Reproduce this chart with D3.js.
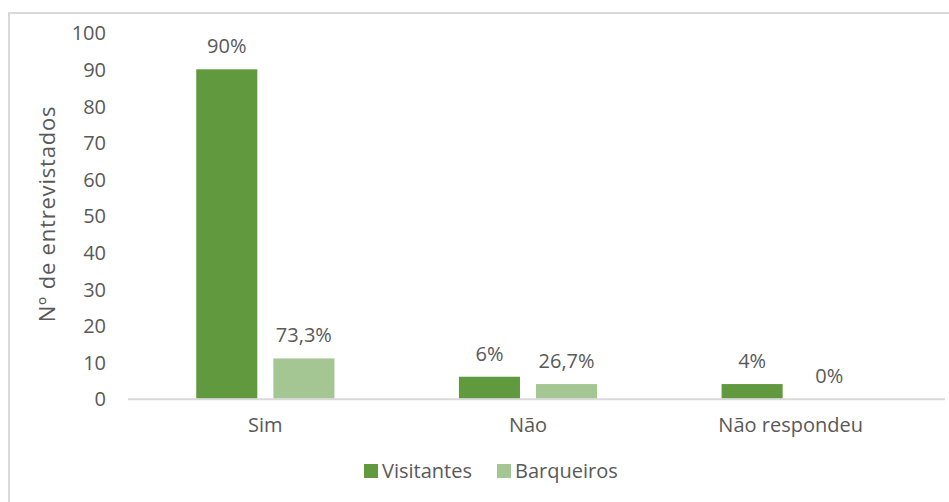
<!DOCTYPE html>
<html>
<head>
<meta charset="utf-8">
<script src="https://cdn.jsdelivr.net/npm/d3@7"></script>
<style>
  body { margin: 0; background: #fff; }
  text { font-family: "Open Sans", sans-serif; fill: #595959; }
</style>
</head>
<body>
<div id="chart"></div>
<script>
const categories = ["Sim", "Não", "Não respondeu"];
const seriesNames = ["Visitantes", "Barqueiros"];
const visitantes = [90, 6, 4];
const barqueiros = [11, 4, 0];
const visitantesLabels = ["90%", "6%", "4%"];
const barqueirosLabels = ["73,3%", "26,7%", "0%"];
const yTicks = [0, 10, 20, 30, 40, 50, 60, 70, 80, 90, 100];

const colors = { Visitantes: "#619a3e", Barqueiros: "#a4c693" };

const W = 949, H = 502;

const svg = d3
  .select("#chart")
  .append("svg")
  .attr("width", W)
  .attr("height", H);

// outer chart frame (runs past the right and bottom edges)
svg
  .append("rect")
  .attr("x", 9)
  .attr("y", 13)
  .attr("width", 980)
  .attr("height", 540)
  .attr("fill", "none")
  .attr("stroke", "#d9d9d9")
  .attr("stroke-width", 2);

const x0 = d3
  .scaleBand()
  .domain(categories)
  .range([134, 922])
  .paddingInner(0.474)
  .paddingOuter(0.237);

const x1 = d3
  .scaleBand()
  .domain(seriesNames)
  .range([0, x0.bandwidth()])
  .paddingInner(0.208);

const y = d3.scaleLinear().domain([0, 100]).range([398.7, 32.7]);

const rows = categories.map((c, i) => ({
  cat: c,
  values: [
    { key: "Visitantes", v: visitantes[i], label: visitantesLabels[i] },
    { key: "Barqueiros", v: barqueiros[i], label: barqueirosLabels[i] },
  ],
}));

// y axis labels
const yAxis = d3.axisLeft(y).tickValues(yTicks).tickSize(0).tickPadding(0);
const yg = svg.append("g").attr("transform", "translate(106,0)").call(yAxis);
yg.select(".domain").remove();
yg.selectAll("text")
  .attr("font-size", 20)
  .attr("font-family", null)
  .attr("fill", "#595959")
  .attr("dy", "0.36em");

// y axis title
svg
  .append("text")
  .attr("transform", "translate(55,214) rotate(-90)")
  .attr("text-anchor", "middle")
  .attr("font-size", 22)
  .attr("letter-spacing", 0.8)
  .text("Nº de entrevistados");

const groups = svg
  .selectAll(".grp")
  .data(rows)
  .enter()
  .append("g")
  .attr("class", "grp")
  .attr("transform", (d) => `translate(${x0(d.cat)},0)`);

groups
  .selectAll("rect")
  .data((d) => d.values)
  .enter()
  .append("rect")
  .attr("x", (d) => x1(d.key))
  .attr("y", (d) => y(d.v))
  .attr("width", x1.bandwidth())
  .attr("height", (d) => y(0) - y(d.v))
  .attr("fill", (d) => colors[d.key]);

groups
  .selectAll(".lbl")
  .data((d) => d.values)
  .enter()
  .append("text")
  .attr("class", "lbl")
  .attr("x", (d) => x1(d.key) + x1.bandwidth() / 2)
  .attr("y", (d) => y(d.v) - 16)
  .attr("text-anchor", "middle")
  .attr("font-size", 20)
  .text((d) => d.label);

// category axis line
svg
  .append("line")
  .attr("x1", 128)
  .attr("x2", 945)
  .attr("y1", y(0) + 0.5)
  .attr("y2", y(0) + 0.5)
  .attr("stroke", "#d9d9d9")
  .attr("stroke-width", 2);

const xAxis = d3.axisBottom(x0).tickSize(0).tickPadding(0);
const xg = svg.append("g").attr("transform", `translate(0,${y(0)})`).call(xAxis);
xg.select(".domain").remove();
xg.selectAll("text")
  .attr("font-size", 20)
  .attr("font-family", null)
  .attr("fill", "#595959")
  .attr("dy", "1.65em");

// legend
const legendX = [364, 497];
const legend = svg
  .selectAll(".leg")
  .data(seriesNames)
  .enter()
  .append("g")
  .attr("class", "leg")
  .attr("transform", (d, i) => `translate(${legendX[i]},464)`);

legend
  .append("rect")
  .attr("width", 14)
  .attr("height", 14)
  .attr("fill", (d) => colors[d]);

legend
  .append("text")
  .attr("x", 18)
  .attr("y", 7)
  .attr("dy", "0.36em")
  .attr("font-size", 20)
  .text((d) => d);
</script>
</body>
</html>
